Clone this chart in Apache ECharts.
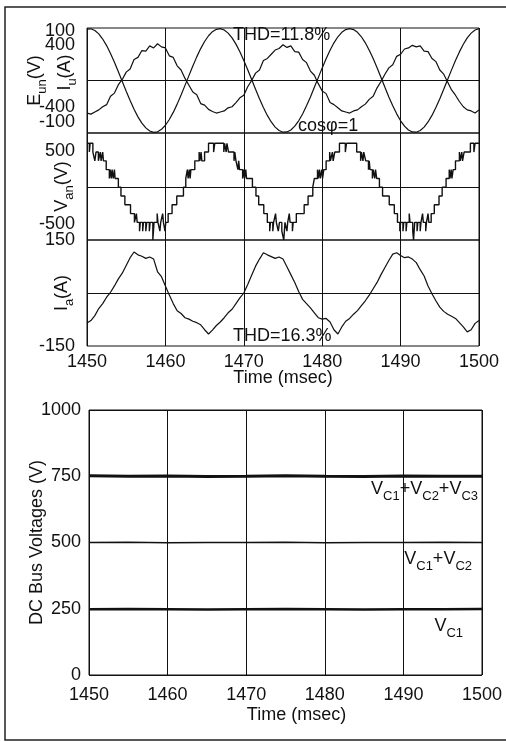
<!DOCTYPE html>
<html><head><meta charset="utf-8">
<script src="https://cdn.jsdelivr.net/npm/echarts@6/dist/echarts.min.js"></script>
<style>html,body{margin:0;padding:0;background:#fff}#c{width:506px;height:742px}</style>
</head><body><div id="c"></div>
<script>
// ---------- data ----------
const timeStart = 1450, timeEnd = 1500, timeStep = 10;
// grid phase voltage E_un (V), sampled every 0.5 ms from 1450 ms
const eunVolts = [392,394,381,355,316,266,206,139,67,-7,
  -82,-153,-219,-277,-325,-361,-385,-395,-391,-372,
  -341,-297,-243,-180,-111,-37,37,111,180,243,
  297,341,372,390,395,385,361,325,277,219,
  153,82,8,-67,-139,-206,-266,-316,-355,-381,
  -394,-392,-377,-348,-307,-255,-193,-125,-52,22,
  96,166,231,287,333,367,388,395,388,367,
  333,287,231,167,97,23,-52,-125,-193,-254,
  -307,-348,-377,-392,-394,-381,-355,-316,-266,-206,
  -139,-67,7,81,153,218,276,325,361,385,395];
// line current I_u (A), same sampling
const iuAmps = [-62,-64,-60,-56,-50,-46,-30,-24,-8,2,
  16,22,40,44,57,56,66,62,70,64,
  62,47,44,28,20,4,-9,-22,-27,-44,
  -47,-55,-59,-62,-60,-58,-52,-50,-42,-33,
  -28,-12,0,14,20,38,42,50,58,61,
  68,63,66,55,54,40,34,18,10,-6,
  -20,-25,-42,-46,-52,-58,-60,-62,-58,-56,
  -50,-45,-36,-30,-14,-2,12,24,30,46,
  50,60,62,67,64,66,56,55,42,36,
  20,12,-3,-18,-28,-40,-50,-56,-58,-62,-56];
// motor current I_a (A), same sampling
const iaAmps = [-85,-78,-64,-44,-30,-12,2,20,40,56,
  78,100,116,108,104,98,102,96,60,46,
  20,-6,-30,-50,-58,-70,-74,-80,-84,-90,
  -104,-116,-105,-92,-82,-70,-56,-46,-30,-14,
  0,24,50,76,96,114,108,103,98,102,
  96,74,52,30,4,-18,-30,-42,-56,-70,
  -74,-72,-82,-104,-116,-96,-80,-72,-60,-50,
  -36,-22,-6,12,30,52,72,92,110,114,
  106,100,102,96,86,66,48,20,-2,-22,
  -40,-52,-60,-66,-72,-84,-96,-110,-104,-86,-78];
// inverter phase voltage V_an: [time (ms), level (V) held from that time]
const vanSteps = [[1450.00,600],[1450.30,480],[1450.40,600],[1450.75,480],[1451.00,360],[1451.15,480],[1451.45,360],[1451.70,480],[1451.80,360],[1452.00,480],
  [1452.10,360],[1452.45,240],[1452.85,120],[1452.95,240],[1453.10,120],[1453.20,240],[1453.35,120],[1453.50,240],[1453.58,120],[1454.00,0],
  [1454.33,-120],[1454.83,-240],[1455.55,-360],[1456.05,-480],[1456.30,-360],[1456.40,-480],[1456.70,-600],[1456.80,-480],[1457.10,-600],[1457.20,-480],
  [1457.50,-600],[1457.62,-480],[1457.95,-600],[1458.05,-480],[1458.40,-720],[1458.55,-480],[1458.95,-360],[1459.05,-480],[1459.30,-600],[1459.40,-480],
  [1459.65,-360],[1459.75,-480],[1459.95,-600],[1460.05,-480],[1460.35,-360],[1460.85,-240],[1461.45,-120],[1462.30,0],[1462.60,120],[1462.80,240],
  [1462.90,120],[1463.05,240],[1463.15,120],[1463.25,240],[1463.75,360],[1464.30,480],[1464.40,360],[1464.55,480],[1464.65,360],[1465.00,480],
  [1465.50,600],[1466.15,480],[1466.30,600],[1467.45,480],[1467.55,600],[1467.75,480],[1467.85,600],[1468.05,480],[1468.75,360],[1468.85,480],
  [1469.00,360],[1469.25,240],[1469.35,360],[1469.45,240],[1469.85,120],[1469.95,240],[1470.10,120],[1470.25,240],[1470.35,120],[1471.10,0],
  [1471.55,-120],[1471.90,-240],[1472.55,-360],[1473.00,-480],[1473.30,-600],[1473.40,-480],[1473.70,-600],[1473.80,-480],[1474.05,-360],[1474.15,-480],
  [1474.40,-600],[1474.55,-480],[1474.85,-600],[1475.10,-720],[1475.25,-480],[1475.50,-600],[1475.60,-480],[1475.80,-360],[1475.90,-480],[1476.20,-600],
  [1476.30,-480],[1476.70,-360],[1477.70,-240],[1478.20,-120],[1478.80,0],[1479.00,120],[1479.40,240],[1479.50,120],[1479.65,240],[1479.75,120],
  [1479.95,240],[1480.05,120],[1480.20,240],[1480.50,360],[1480.95,480],[1481.05,360],[1481.30,480],[1481.40,360],[1481.60,480],[1482.20,600],
  [1482.95,480],[1483.10,600],[1484.40,480],[1484.90,360],[1485.00,480],[1485.20,360],[1485.30,480],[1485.55,360],[1485.90,240],[1486.00,360],
  [1486.10,240],[1486.40,120],[1486.50,240],[1486.70,120],[1486.80,240],[1486.95,120],[1487.30,0],[1487.70,-120],[1488.55,-240],[1489.20,-360],
  [1489.60,-480],[1489.90,-600],[1490.00,-480],[1490.30,-600],[1490.40,-480],[1490.70,-600],[1490.80,-480],[1491.10,-360],[1491.20,-480],[1491.55,-600],
  [1491.65,-720],[1491.80,-480],[1492.10,-600],[1492.20,-480],[1492.50,-600],[1492.60,-480],[1492.80,-360],[1492.90,-480],[1493.20,-600],[1493.30,-480],
  [1493.50,-360],[1493.60,-480],[1493.90,-360],[1494.30,-240],[1494.90,-120],[1495.30,0],[1495.80,120],[1496.20,240],[1496.30,120],[1496.45,240],
  [1496.55,120],[1496.70,240],[1497.00,360],[1497.50,480],[1497.60,360],[1497.80,480],[1497.90,360],[1498.10,480],[1498.90,600],[1499.35,480],
  [1499.50,600],[1500.00,600]];
// DC bus voltages (V)
const dcTimes = [1450,1455,1460,1465,1470,1475,1480,1485,1490,1495,1500];
const vc123 = [752,750,751,749,750,752,750,749,751,750,750];
const vc12  = [500,501,499,500,500,501,499,500,500,501,500];
const vc1   = [248,249,248,247,248,249,248,247,248,248,249];
// tick label values
const iuTicks = [-100, 100], eunTicks = [-400, 400], vanTicks = [-500, 500], iaTicks = [-150, 150];
const dcTicks = [0, 250, 500, 750, 1000];

// ---------- chart ----------
const F = '"Liberation Sans", Arial, Helvetica, sans-serif';
const INK = '#111';
const sampleTimes = eunVolts.map((_, i) => timeStart + i * 0.5);
const zip = (ts, vs) => ts.map((t, i) => [t, vs[i]]);
const plain = v => String(v);

const nameRich = {
  m: {fontSize: 18, fontFamily: F, color: INK, lineHeight: 22, verticalAlign: 'top'},
  s: {fontSize: 13, fontFamily: F, color: INK, lineHeight: 13, verticalAlign: 'top', padding: [10, 0, 0, 0]}
};
const gfxRich = {
  m: {fontSize: 18, fontFamily: F, fill: INK, color: INK, lineHeight: 22, verticalAlign: 'top'},
  s: {fontSize: 13, fontFamily: F, fill: INK, color: INK, lineHeight: 13, verticalAlign: 'top', padding: [10, 0, 0, 0]}
};
const lbl = {fontSize: 18, fontFamily: F, color: INK};

function xAx(gi, show, margin, gap, padLeft) {
  return {
    type: 'value', gridIndex: gi, min: timeStart, max: timeEnd, interval: timeStep,
    axisLine: {show: false}, axisTick: {show: false},
    splitLine: {show: true, lineStyle: {color: INK, width: 1}},
    axisLabel: Object.assign({show: show, margin: margin, formatter: plain}, lbl),
    name: show ? 'Time (msec)' : '', nameLocation: 'middle', nameGap: gap, nameMoveOverlap: false,
    nameTextStyle: Object.assign({padding: [0, 0, 0, padLeft || 0]}, lbl)
  };
}
function yAx(gi, min, max, ticks, opts) {
  return Object.assign({
    type: 'value', gridIndex: gi, min: min, max: max, position: 'left',
    axisLine: {show: false}, axisTick: {show: false},
    splitLine: {show: false},
    axisLabel: Object.assign({customValues: ticks, margin: 12, formatter: plain}, lbl),
    nameLocation: 'middle', nameRotate: 90, nameMoveOverlap: false
  }, opts);
}
const lineS = (xi, yi, data, w, extra) => Object.assign({
  type: 'line', xAxisIndex: xi, yAxisIndex: yi, data: data,
  showSymbol: false, symbol: 'none', silent: true, animation: false,
  lineStyle: {color: INK, width: w}
}, extra || {});
const zeroLine = {silent: true, symbol: 'none', label: {show: false},
  lineStyle: {color: INK, width: 1, type: 'solid'}, data: [{yAxis: 0}], animation: false};

const option = {
  animation: false,
  backgroundColor: '#fff',
  grid: [
    {left: 87, right: 27, top: 28, height: 105, show: true, borderColor: INK, borderWidth: 1},
    {left: 87, right: 27, top: 133, height: 107, show: true, borderColor: INK, borderWidth: 1},
    {left: 87, right: 27, top: 240, height: 106, show: true, borderColor: INK, borderWidth: 1},
    {left: 89, right: 24, top: 410, height: 265, show: true, borderColor: INK, borderWidth: 1}
  ],
  xAxis: [xAx(0, false, 7, 22), xAx(1, false, 7, 22), xAx(2, true, 7, 23), xAx(3, true, 11, 31, 22)],
  yAxis: [
    yAx(0, -100, 100, iuTicks, {name: '{m|I}{s|u}{m|(A)}', nameGap: 9,
      nameTextStyle: {rich: nameRich, padding: [0, 0, 0, 16]},
      axisLabel: Object.assign({customValues: iuTicks, margin: 12, lineHeight: 7,
        formatter: v => v > 0 ? '\n' + v : v + '\n\n\n'}, lbl)}),
    yAx(0, -400, 400, eunTicks, {name: '{m|E}{s|un}{m|(V)}', nameGap: 39,
      nameTextStyle: {rich: nameRich},
      axisLabel: Object.assign({customValues: eunTicks, margin: 12, lineHeight: 17,
        formatter: v => v > 0 ? '\n\n' + v : v + '\n\n\n'}, lbl)}),
    yAx(1, -720, 740, vanTicks, {name: '{m|V}{s|an}{m|(V)}', nameGap: 12,
      nameTextStyle: {rich: nameRich}}),
    yAx(2, -150, 150, iaTicks, {name: '{m|I}{s|a}{m|(A)}', nameGap: 12,
      nameTextStyle: {rich: nameRich}}),
    yAx(3, 0, 1000, dcTicks, {name: 'DC Bus Voltages (V)', nameGap: 43, interval: 250,
      nameTextStyle: lbl,
      splitLine: {show: true, lineStyle: {color: INK, width: 1}},
      axisLabel: Object.assign({margin: 8, formatter: plain}, lbl)})
  ],
  series: [
    lineS(0, 1, zip(sampleTimes, eunVolts), 1.2, {markLine: zeroLine}),
    lineS(0, 0, zip(sampleTimes, iuAmps), 1.2),
    lineS(1, 2, vanSteps, 1.4, {step: 'end', markLine: zeroLine}),
    lineS(2, 3, zip(sampleTimes, iaAmps), 1.2, {markLine: zeroLine}),
    lineS(3, 4, zip(dcTimes, vc123), 3),
    lineS(3, 4, zip(dcTimes, vc12), 1.6),
    lineS(3, 4, zip(dcTimes, vc1), 2.6)
  ],
  graphic: [
    {type: 'polyline', silent: true, shape: {points: [[507, 7], [5, 7], [5, 740], [507, 740]]},
      style: {stroke: '#222', lineWidth: 1.5, fill: null}},
    {type: 'text', x: 233, y: 35, silent: true,
      style: {text: 'THD=11.8%', fontSize: 18, fontFamily: F, fill: INK, verticalAlign: 'middle', textVerticalAlign: 'middle'}},
    {type: 'text', x: 298, y: 126, silent: true,
      style: {text: 'cosφ=1', fontSize: 18, fontFamily: F, fill: INK, verticalAlign: 'middle', textVerticalAlign: 'middle'}},
    {type: 'text', x: 233, y: 336, silent: true,
      style: {text: 'THD=16.3%', fontSize: 18, fontFamily: F, fill: INK, verticalAlign: 'middle', textVerticalAlign: 'middle'}},
    {type: 'text', x: 478, y: 491, silent: true,
      style: {text: '{m|V}{s|C1}{m|+V}{s|C2}{m|+V}{s|C3}', rich: gfxRich, fontSize: 18, fontFamily: F, fill: INK,
        align: 'right', textAlign: 'right', verticalAlign: 'middle', textVerticalAlign: 'middle'}},
    {type: 'text', x: 472, y: 561, silent: true,
      style: {text: '{m|V}{s|C1}{m|+V}{s|C2}', rich: gfxRich, fontSize: 18, fontFamily: F, fill: INK,
        align: 'right', textAlign: 'right', verticalAlign: 'middle', textVerticalAlign: 'middle'}},
    {type: 'text', x: 463, y: 628, silent: true,
      style: {text: '{m|V}{s|C1}', rich: gfxRich, fontSize: 18, fontFamily: F, fill: INK,
        align: 'right', textAlign: 'right', verticalAlign: 'middle', textVerticalAlign: 'middle'}}
  ]
};
const chart = echarts.init(document.getElementById('c'), null, {renderer: 'canvas'});
chart.setOption(option);
</script></body></html>
